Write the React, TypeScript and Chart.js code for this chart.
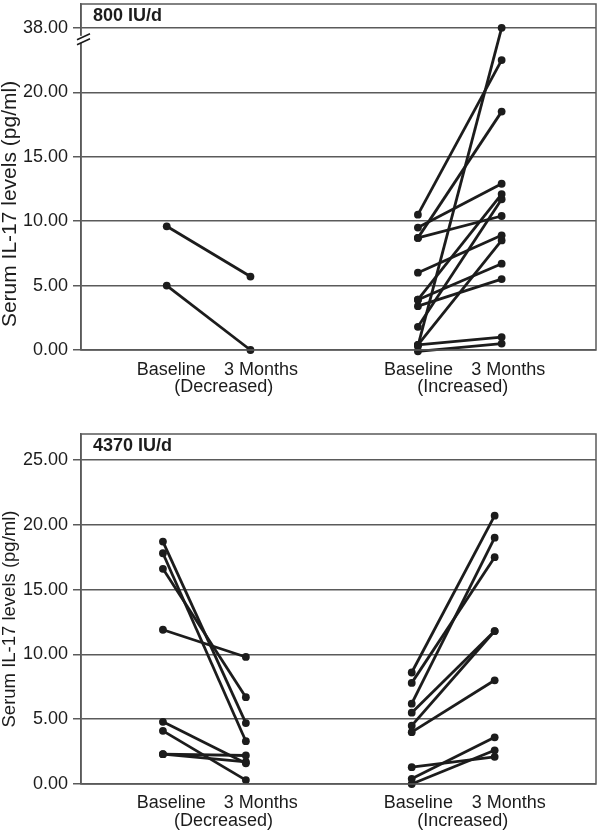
import React, { useEffect, useRef } from 'react';
import { Chart, registerables } from 'chart.js';

Chart.register(...registerables);

// ---- Data (pg/ml) ----
const topDecBaseline = [9.6, 5.0];
const topDec3Months = [5.7, 0.0];
const topIncBaseline = [10.5, 9.5, 8.7, 8.7, 6.0, 3.9, 3.9, 3.4, 1.8, 0.4, 0.3, 0.4, -0.1];
const topInc3Months = [29.0, 12.9, 18.5, 10.4, 8.9, 12.1, 6.7, 5.5, 11.7, 8.5, 38.0, 1.0, 0.5];

const botDecBaseline = [18.7, 17.8, 16.6, 11.9, 4.8, 4.1, 2.3, 2.3];
const botDec3Months = [4.7, 3.3, 6.7, 9.8, 1.6, 0.3, 2.2, 1.7];
const botIncBaseline = [8.6, 7.8, 6.2, 5.5, 4.5, 4.0, 1.3, 0.4, 0.0];
const botInc3Months = [20.7, 17.5, 19.0, 11.8, 11.8, 8.0, 2.1, 3.6, 2.6];

const timeLabels = ['Baseline', '3 Months'];
const groupLabels = ['(Decreased)', '(Increased)'];
const yTicks = [0, 5, 10, 15, 20, 25];
const yTitle = 'Serum IL-17 levels (pg/ml)';

// axis break for the top panel: values above 20 are compressed so that 38 sits at 25
const BREAK_LOW = 20;
const BREAK_HIGH = 38;
function toAxis(v: number, broken: boolean) {
  if (!broken || v <= BREAK_LOW) return v;
  return BREAK_LOW + (v - BREAK_LOW) * 5 / (BREAK_HIGH - BREAK_LOW);
}

const FONT = '"Liberation Sans", Arial, Helvetica, sans-serif';
const INK = '#1c1c1c';
const GRID = '#5a5a5a';

type PanelCfg = {
  title: string;
  broken: boolean;
  yMax: number;
  xMin: number;
  xMax: number;
  padTop: number;
  padBottom: number;
  height: number;
  labelX: number[];
  groupX: number[];
  titleSize: number;
  titleCenterY: number;
  labelRowDy: number;
  groupRowDy: number;
  dec: [number[], number[]];
  inc: [number[], number[]];
};

const panels: PanelCfg[] = [
  {
    title: '800 IU/d', broken: true, yMax: 26.85, xMin: -0.024, xMax: 6.127,
    padTop: 2, padBottom: 50, height: 400,
    labelX: [1.054, 2.125, 4.006, 5.08], groupX: [1.68, 4.536],
    titleSize: 21, titleCenterY: 204, labelRowDy: 25, groupRowDy: 42,
    dec: [topDecBaseline, topDec3Months], inc: [topIncBaseline, topInc3Months],
  },
  {
    title: '4370 IU/d', broken: false, yMax: 27.0, xMin: 0.012, xMax: 6.222,
    padTop: 34, padBottom: 49, height: 433,
    labelX: [1.10, 2.18, 4.08, 5.17], groupX: [1.73, 4.615],
    titleSize: 18.5, titleCenterY: 219, labelRowDy: 23.5, groupRowDy: 42,
    dec: [botDecBaseline, botDec3Months], inc: [botIncBaseline, botInc3Months],
  },
];

function pairs(base: number[], after: number[], x0: number, broken: boolean) {
  return base.map((b, i) => ({
    data: [
      { x: x0, y: toAxis(b, broken) },
      { x: x0 + 1, y: toAxis(after[i], broken) },
    ],
    showLine: true,
    borderColor: INK,
    backgroundColor: INK,
    pointBackgroundColor: INK,
    pointBorderColor: INK,
    borderWidth: 2.8,
    pointRadius: 3.9,
    pointBorderWidth: 0,
    clip: false as any,
  }));
}

function Panel({ cfg }: { cfg: PanelCfg }) {
  const ref = useRef<HTMLCanvasElement | null>(null);
  useEffect(() => {
    if (!ref.current) return;
    const deco = {
      id: 'deco',
      afterDraw(chart: any) {
        const ctx = chart.ctx as CanvasRenderingContext2D;
        const a = chart.chartArea;
        const xs = chart.scales.x;
        const ys = chart.scales.y;
        ctx.save();
        // frame
        ctx.strokeStyle = GRID;
        ctx.lineWidth = 1.5;
        ctx.strokeRect(a.left, a.top, a.right - a.left, a.bottom - a.top);
        // axis break
        if (cfg.broken) {
          const yc = ys.getPixelForValue(25) + 11;
          ctx.fillStyle = '#ffffff';
          ctx.fillRect(a.left - 2, yc - 3, 4, 7);
          ctx.strokeStyle = INK;
          ctx.lineWidth = 1.6;
          ctx.beginPath();
          ctx.moveTo(a.left - 4, yc + 1);
          ctx.lineTo(a.left + 9, yc - 5);
          ctx.moveTo(a.left - 4, yc + 6);
          ctx.lineTo(a.left + 9, yc);
          ctx.stroke();
        }
        // panel title
        ctx.fillStyle = INK;
        ctx.font = `bold 18px ${FONT}`;
        ctx.textAlign = 'left';
        ctx.textBaseline = 'alphabetic';
        ctx.fillText(cfg.title, a.left + 12, a.top + 17);
        // x labels
        ctx.font = `18px ${FONT}`;
        ctx.textAlign = 'center';
        const names = [timeLabels[0], timeLabels[1], timeLabels[0], timeLabels[1]];
        names.forEach((t, i) => {
          ctx.fillText(t, xs.getPixelForValue(cfg.labelX[i]), a.bottom + cfg.labelRowDy);
        });
        groupLabels.forEach((t, i) => {
          ctx.fillText(t, xs.getPixelForValue(cfg.groupX[i]), a.bottom + cfg.groupRowDy);
        });
        // y title
        ctx.translate(10, cfg.titleCenterY);
        ctx.rotate(-Math.PI / 2);
        ctx.font = `${cfg.titleSize}px ${FONT}`;
        ctx.textAlign = 'center';
        ctx.textBaseline = 'middle';
        ctx.fillText(yTitle, 0, 0);
        ctx.restore();
      },
    };
    const chart = new Chart(ref.current, {
      type: 'scatter',
      data: {
        datasets: [
          ...pairs(cfg.dec[0], cfg.dec[1], 1, cfg.broken),
          ...pairs(cfg.inc[0], cfg.inc[1], 4, cfg.broken),
        ] as any,
      },
      options: {
        animation: false,
        responsive: false,
        devicePixelRatio: 1,
        layout: { padding: { left: 0, right: 2, top: cfg.padTop, bottom: cfg.padBottom } },
        plugins: { legend: { display: false }, tooltip: { enabled: false } },
        scales: {
          x: { type: 'linear', min: cfg.xMin, max: cfg.xMax, display: false },
          y: {
            type: 'linear',
            min: 0,
            max: cfg.yMax,
            afterBuildTicks: (s: any) => { s.ticks = yTicks.map((v) => ({ value: v })); },
            afterFit: (s: any) => { s.width = 81; s.paddingTop = 0; s.paddingBottom = 0; },
            ticks: {
              padding: 5,
              color: INK,
              font: { family: FONT, size: 18 },
              callback: (v: any) => (cfg.broken && v === 25 ? BREAK_HIGH.toFixed(2) : Number(v).toFixed(2)),
            },
            grid: { color: GRID, lineWidth: 1.5, tickLength: 8, drawTicks: true },
            border: { color: GRID, width: 1.5 },
          },
        },
      } as any,
      plugins: [deco],
    });
    return () => chart.destroy();
  }, [cfg]);
  return <canvas ref={ref} width={600} height={cfg.height} style={{ display: 'block', width: 600, height: cfg.height }} />;
}

export default function App() {
  return (
    <div style={{ position: 'absolute', left: 0, top: 0, width: 600, height: 833, background: '#fff' }}>
      {panels.map((p, i) => (
        <Panel key={i} cfg={p} />
      ))}
    </div>
  );
}
